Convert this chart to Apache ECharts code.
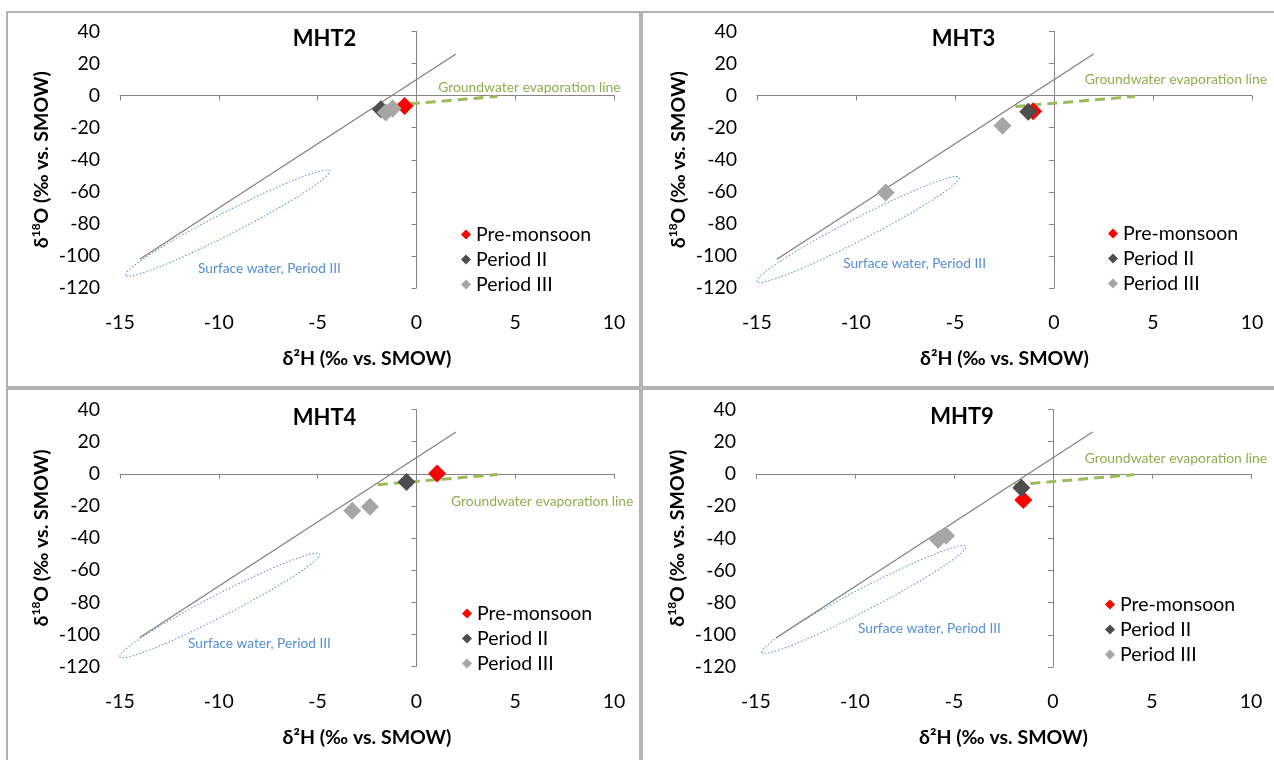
<!DOCTYPE html>
<html>
<head>
<meta charset="utf-8">
<script src="https://cdn.jsdelivr.net/npm/echarts/dist/echarts.min.js"></script>
<style>
  html, body { margin: 0; padding: 0; background: #fff; }
  #chart { width: 1274px; height: 760px; }
</style>
</head>
<body>
<div id="chart"></div>
<script>
// ---------------- data ----------------
const panelNames = ['MHT2', 'MHT3', 'MHT4', 'MHT9'];
const seriesNames = ['Pre-monsoon', 'Period II', 'Period III'];
const xTickMin = -15, xTickMax = 10, xTickStep = 5;
const yTickMin = -120, yTickMax = 40, yTickStep = 20;
const xTitle = 'δ²H (‰ vs. SMOW)';
const yTitle = '{n|δ}{s|18}{n|O (‰ vs. SMOW)}';

// one entry per panel: MHT2, MHT3, MHT4, MHT9
const preMonsoon = [[[-0.6, -6.5]], [[-1.05, -9.8]], [[1.05, 0.2]], [[-1.5, -16.3]]];
const periodII = [[[-1.8, -8.5]], [[-1.3, -10]], [[-0.5, -5.2]], [[-1.6, -8.6]]];
const periodIII = [
  [[-1.55, -10.5], [-1.2, -8]],
  [[-2.6, -18.8], [-8.5, -60.4]],
  [[-3.25, -23], [-2.35, -20.5]],
  [[-5.8, -41], [-5.4, -38.5]]
];
const meteoricLine = [[-14, -102], [2, 26]];
const evaporationLine = [[-1.95, -6.8], [4.1, -0.5]];
const surfaceEllipseEnds = [
  [[-14.7, -112], [-4.4, -47]],
  [[-15, -116], [-4.8, -51]],
  [[-15, -114], [-4.9, -50]],
  [[-14.7, -111], [-4.4, -45]]
];
const surfaceLabel = 'Surface water, Period III';
const surfaceLabelAnchor = [[-11.05, -108], [-10.65, -105], [-11.56, -105.6], [-9.85, -96]];
const evapLabel = 'Groundwater evaporation line';
const evapLabelAnchor = [[1.1, 5.3], [1.55, 9.8], [1.75, -17.3], [1.6, 9.6]];

// ---------------- layout / style ----------------
const FONT = 'Lato, "Open Sans", "DejaVu Sans", sans-serif';
const seriesColors = ['#ff0000', '#4d4d4d', '#a6a6a6'];
const grids = [
  { left: 120, top: 31.5, width: 494, height: 256.5 },
  { left: 757, top: 31.5, width: 495, height: 256.5 },
  { left: 120, top: 409.5, width: 494, height: 257 },
  { left: 756, top: 409.5, width: 495, height: 257.5 }
];
const titlePos = [[324.5, 38.5], [963.5, 38.5], [324.5, 417.5], [962, 417]];
const legendPos = [[461, 224.5], [1108, 223.5], [462, 603.5], [1105, 594.5]];
const panelRects = [
  [7, 12, 633, 375], [642, 12, 640, 375], [7, 389, 633, 380], [642, 389, 640, 380]
];

const chart = echarts.init(document.getElementById('chart'), null, { renderer: 'canvas' });

const option = {
  animation: false,
  textStyle: { fontFamily: FONT },
  graphic: { elements: [] },
  grid: [], xAxis: [], yAxis: [], legend: [], series: []
};

panelRects.forEach(r => {
  option.graphic.elements.push({
    type: 'rect', silent: true, z: -1,
    shape: { x: r[0], y: r[1], width: r[2], height: r[3] },
    style: { fill: 'none', stroke: '#9a9a9a', lineWidth: 1.5 }
  });
});

panelNames.forEach((nm, i) => {
  option.graphic.elements.push({
    type: 'text', x: titlePos[i][0], y: titlePos[i][1], silent: true,
    style: { text: nm, fontFamily: FONT, fontSize: 22, fontWeight: 'bold', fill: '#000',
             align: 'center', verticalAlign: 'middle' }
  });
});

const labelStyle = { fontSize: 19.5, color: '#000', fontFamily: FONT };

grids.forEach((g, i) => {
  option.grid.push(Object.assign({ containLabel: false, outerBoundsMode: 'none' }, g));
  // label-only axes at the grid edges
  option.xAxis.push({
    type: 'value', gridIndex: i, min: xTickMin, max: xTickMax, interval: xTickStep,
    position: 'bottom',
    axisLine: { show: false, onZero: false }, axisTick: { show: false }, splitLine: { show: false },
    axisLabel: Object.assign({ margin: 25, showMinLabel: true, showMaxLabel: true }, labelStyle),
    name: xTitle, nameLocation: 'middle', nameGap: 61,
    nameTextStyle: { fontSize: 19.5, fontWeight: 'bold', color: '#000', fontFamily: FONT }
  });
  option.xAxis.push({
    type: 'value', gridIndex: i, min: xTickMin, max: xTickMax, interval: xTickStep,
    position: 'bottom',
    axisLine: { show: true, onZero: true, onZeroAxisIndex: 2 * i, lineStyle: { color: '#868686', width: 1 } },
    axisTick: { show: true, length: 5, lineStyle: { color: '#868686' } },
    axisLabel: { show: false }, splitLine: { show: false }
  });
  option.yAxis.push({
    type: 'value', gridIndex: i, min: yTickMin, max: yTickMax, interval: yTickStep,
    position: 'left',
    axisLine: { show: false, onZero: false }, axisTick: { show: false }, splitLine: { show: false },
    axisLabel: Object.assign({ margin: 20, showMinLabel: true, showMaxLabel: true }, labelStyle),
    name: yTitle, nameLocation: 'middle', nameGap: 67, nameRotate: 90,
    nameTextStyle: {
      color: '#000', fontFamily: FONT,
      rich: {
        n: { fontSize: 19.5, fontWeight: 'bold', lineHeight: 23, color: '#000', fontFamily: FONT },
        s: { fontSize: 12, fontWeight: 'bold', lineHeight: 12, verticalAlign: 'top', color: '#000', fontFamily: FONT }
      }
    }
  });
  option.yAxis.push({
    type: 'value', gridIndex: i, min: yTickMin, max: yTickMax, interval: yTickStep,
    position: 'left',
    axisLine: { show: true, onZero: true, onZeroAxisIndex: 2 * i, lineStyle: { color: '#868686', width: 1 } },
    axisTick: { show: true, length: 5, lineStyle: { color: '#868686' } },
    axisLabel: { show: false }, splitLine: { show: false }
  });

  option.legend.push({
    orient: 'vertical', left: legendPos[i][0], top: legendPos[i][1], padding: 0,
    itemGap: 5, itemWidth: 10, itemHeight: 10, icon: 'diamond', selectedMode: false,
    textStyle: { fontSize: 19.5, lineHeight: 18, color: '#000', fontFamily: FONT },
    data: seriesNames
  });

  const ax = { xAxisIndex: 2 * i, yAxisIndex: 2 * i };
  option.series.push(Object.assign({
    type: 'line', data: meteoricLine, symbol: 'none', silent: true, z: 2,
    lineStyle: { color: '#7f7f7f', width: 1.2 }
  }, ax));
  option.series.push(Object.assign({
    type: 'line', data: evaporationLine, symbol: 'none', silent: true, z: 2,
    lineStyle: { color: '#9bbb59', width: 3, type: [10, 6] }
  }, ax));
  option.series.push(Object.assign({
    type: 'custom', silent: true, z: 1, data: [[0, 0]],
    renderItem: function (params, api) {
      const a = api.coord(surfaceEllipseEnds[i][0]);
      const b = api.coord(surfaceEllipseEnds[i][1]);
      const cx = (a[0] + b[0]) / 2, cy = (a[1] + b[1]) / 2;
      const len = Math.hypot(b[0] - a[0], b[1] - a[1]);
      const ang = Math.atan2(b[1] - a[1], b[0] - a[0]);
      const sl = api.coord(surfaceLabelAnchor[i]);
      const el = api.coord(evapLabelAnchor[i]);
      return {
        type: 'group',
        children: [
          { type: 'ellipse', x: cx, y: cy, rotation: -ang,
            shape: { cx: 0, cy: 0, rx: len / 2, ry: 11 },
            style: { fill: 'none', stroke: '#558ed5', lineWidth: 1, lineDash: [1.5, 2] } },
          { type: 'text', x: sl[0], y: sl[1],
            style: { text: surfaceLabel, fill: '#558ed5', fontSize: 13.7, fontFamily: FONT,
                     align: 'left', verticalAlign: 'middle' } },
          { type: 'text', x: el[0], y: el[1],
            style: { text: evapLabel, fill: '#8fae4f', fontSize: 13.9, fontFamily: FONT,
                     align: 'left', verticalAlign: 'middle' } }
        ]
      };
    }
  }, ax));
  [preMonsoon, periodII, periodIII].forEach((arr, k) => {
    option.series.push(Object.assign({
      type: 'scatter', name: seriesNames[k], data: arr[i], symbol: 'diamond', symbolSize: 18, z: 3,
      itemStyle: { color: seriesColors[k], opacity: 1 }
    }, ax));
  });
});

chart.setOption(option);
</script>
</body>
</html>
